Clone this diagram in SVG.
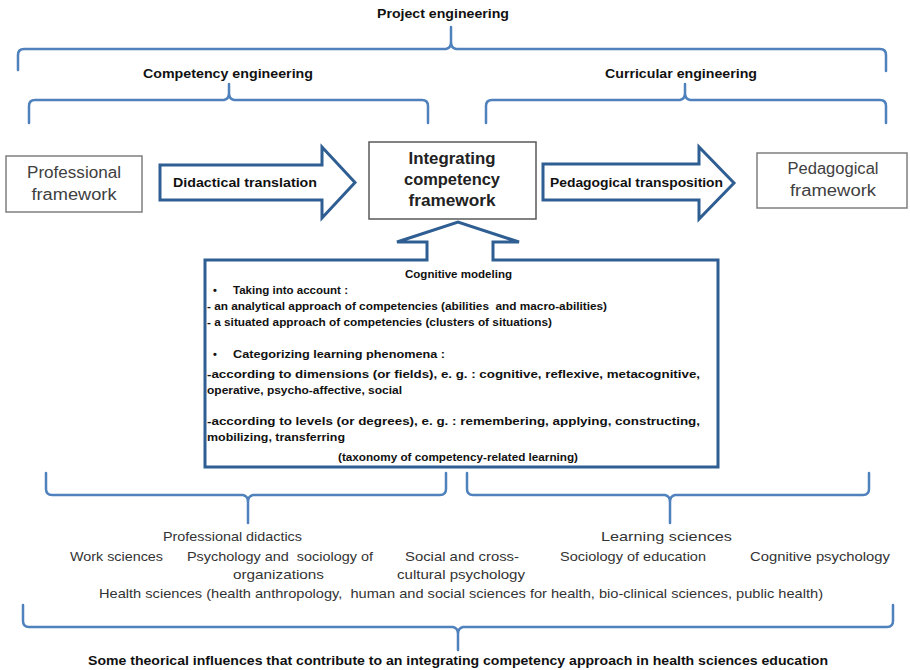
<svg xmlns="http://www.w3.org/2000/svg" width="910" height="670" viewBox="0 0 910 670">
<style>
.brace{fill:none;stroke:#4f81bd;stroke-width:2.5;stroke-linejoin:round;stroke-linecap:round}
.arrow{fill:#fff;stroke:#2f5e93;stroke-width:3;stroke-linejoin:miter}
.box{fill:#fff;stroke:#7f7f7f;stroke-width:1.5}
.hdr{font-family:"Liberation Sans",Arial,sans-serif;font-weight:bold;font-size:12.5px;fill:#111}
.fw{font-family:"Liberation Sans",Arial,sans-serif;font-size:16px;fill:#404040;text-anchor:middle}
.fwb{font-family:"Liberation Sans",Arial,sans-serif;font-size:16.5px;font-weight:bold;fill:#222;text-anchor:middle}
.al{font-family:"Liberation Sans",Arial,sans-serif;font-size:13px;font-weight:bold;fill:#111}
.cm{font-family:"Liberation Sans",Arial,sans-serif;font-size:11px;font-weight:bold;fill:#111;white-space:pre}
.inf{font-family:"Liberation Sans",Arial,sans-serif;font-size:13.5px;fill:#333;white-space:pre}
</style>
<rect width="910" height="670" fill="#fff"/>

<g id="braces">
  <path class="brace" d="M18,70 V55 Q18,49 24,49 H446 Q451,48 451,42 V27 M451,42 Q451,48 456,49 H880 Q886,49 886,55 V71"/>
  <path class="brace" d="M29,123 V106 Q29,100 35,100 H224 Q229,99 229,93 V84 M229,93 Q229,99 234,100 H422 Q428,100 428,106 V123"/>
  <path class="brace" d="M486,123 V106 Q486,100 492,100 H680 Q685,99 685,93 V84 M685,93 Q685,99 690,100 H880 Q886,100 886,106 V123"/>
  <path class="brace" d="M46,473 V489 Q46,495 52,495 H243 Q248,496 248,502 V523 M248,502 Q248,496 253,495 H440 Q446,495 446,489 V473"/>
  <path class="brace" d="M467,473 V489 Q467,495 473,495 H665 Q670,496 670,502 V523 M670,502 Q670,496 675,495 H863 Q869,495 869,489 V473"/>
  <path class="brace" d="M23,605 V621 Q23,627 29,627 H453 Q458,628 458,634 V650 M458,634 Q458,628 463,627 H887 Q893,627 893,621 V605"/>
</g>

<g id="labels-top">
  <text class="hdr" x="377" y="18" textLength="132" lengthAdjust="spacingAndGlyphs">Project engineering</text>
  <text class="hdr" x="143" y="78" textLength="170" lengthAdjust="spacingAndGlyphs">Competency engineering</text>
  <text class="hdr" x="605" y="78" textLength="152" lengthAdjust="spacingAndGlyphs">Curricular engineering</text>
</g>

<g id="professional-framework">
  <rect class="box" x="6" y="156" width="136" height="56"/>
  <text class="fw" x="74" y="178" textLength="94" lengthAdjust="spacingAndGlyphs">Professional</text>
  <text class="fw" x="74" y="200" textLength="85" lengthAdjust="spacingAndGlyphs">framework</text>
</g>

<g id="didactical-translation">
  <polygon class="arrow" points="160,165 322,165 322,147 355,182.5 322,218 322,200 160,200"/>
  <text class="al" x="173" y="187" textLength="144" lengthAdjust="spacingAndGlyphs">Didactical translation</text>
</g>

<g id="integrating-framework">
  <rect class="box" style="stroke:#595959" x="369" y="142" width="167" height="77"/>
  <text class="fwb" x="452" y="164" textLength="87" lengthAdjust="spacingAndGlyphs">Integrating</text>
  <text class="fwb" x="452" y="185" textLength="96" lengthAdjust="spacingAndGlyphs">competency</text>
  <text class="fwb" x="452" y="206" textLength="87" lengthAdjust="spacingAndGlyphs">framework</text>
</g>

<g id="pedagogical-transposition">
  <polygon class="arrow" points="543,164 699,164 699,147 734,183 699,219 699,200 543,200"/>
  <text class="al" x="550" y="187" textLength="173" lengthAdjust="spacingAndGlyphs">Pedagogical transposition</text>
</g>

<g id="pedagogical-framework">
  <rect class="box" x="757" y="153" width="150" height="55"/>
  <text class="fw" x="833" y="174" textLength="91" lengthAdjust="spacingAndGlyphs">Pedagogical</text>
  <text class="fw" x="833" y="196" textLength="86" lengthAdjust="spacingAndGlyphs">framework</text>
</g>

<g id="cognitive-modeling">
  <path class="arrow" d="M205,260 H427 V242 H397 L458,222 L519,242 H493 V260 H718 V467 H205 Z"/>
  <text class="cm" x="405" y="278" textLength="107" lengthAdjust="spacingAndGlyphs">Cognitive modeling</text>
  <text class="cm" x="213" y="294">•</text>
  <text class="cm" x="233" y="294" textLength="115" lengthAdjust="spacingAndGlyphs">Taking into account :</text>
  <text class="cm" x="207" y="310" textLength="400" lengthAdjust="spacingAndGlyphs">- an analytical approach of competencies (abilities  and macro-abilities)</text>
  <text class="cm" x="207" y="326" textLength="345" lengthAdjust="spacingAndGlyphs">- a situated approach of competencies (clusters of situations)</text>
  <text class="cm" x="213" y="358">•</text>
  <text class="cm" x="233" y="358" textLength="212" lengthAdjust="spacingAndGlyphs">Categorizing learning phenomena :</text>
  <text class="cm" x="207" y="378" textLength="493" lengthAdjust="spacingAndGlyphs">-according to dimensions (or fields), e. g. : cognitive, reflexive, metacognitive,</text>
  <text class="cm" x="207" y="394" textLength="195" lengthAdjust="spacingAndGlyphs">operative, psycho-affective, social</text>
  <text class="cm" x="207" y="425" textLength="493" lengthAdjust="spacingAndGlyphs">-according to levels (or degrees), e. g. : remembering, applying, constructing,</text>
  <text class="cm" x="207" y="441" textLength="138" lengthAdjust="spacingAndGlyphs">mobilizing, transferring</text>
  <text class="cm" x="338" y="461" textLength="240" lengthAdjust="spacingAndGlyphs">(taxonomy of competency-related learning)</text>
</g>

<g id="influences">
  <text class="inf" x="163" y="541" textLength="139" lengthAdjust="spacingAndGlyphs">Professional didactics</text>
  <text class="inf" x="70" y="561" textLength="93" lengthAdjust="spacingAndGlyphs">Work sciences</text>
  <text class="inf" x="187" y="561" textLength="186" lengthAdjust="spacingAndGlyphs">Psychology and  sociology of</text>
  <text class="inf" x="233" y="579" textLength="91" lengthAdjust="spacingAndGlyphs">organizations</text>
  <text class="inf" x="405" y="561" textLength="114" lengthAdjust="spacingAndGlyphs">Social and cross-</text>
  <text class="inf" x="397" y="579" textLength="128" lengthAdjust="spacingAndGlyphs">cultural psychology</text>
  <text class="inf" x="601" y="541" textLength="131" lengthAdjust="spacingAndGlyphs">Learning sciences</text>
  <text class="inf" x="560" y="561" textLength="146" lengthAdjust="spacingAndGlyphs">Sociology of education</text>
  <text class="inf" x="750" y="561" textLength="140" lengthAdjust="spacingAndGlyphs">Cognitive psychology</text>
  <text class="inf" x="99" y="598" textLength="724" lengthAdjust="spacingAndGlyphs">Health sciences (health anthropology,  human and social sciences for health, bio-clinical sciences, public health)</text>
</g>

<g id="caption">
  <text class="hdr" x="88" y="665" textLength="740" lengthAdjust="spacingAndGlyphs">Some theorical influences that contribute to an integrating competency approach in health sciences education</text>
</g>
</svg>
